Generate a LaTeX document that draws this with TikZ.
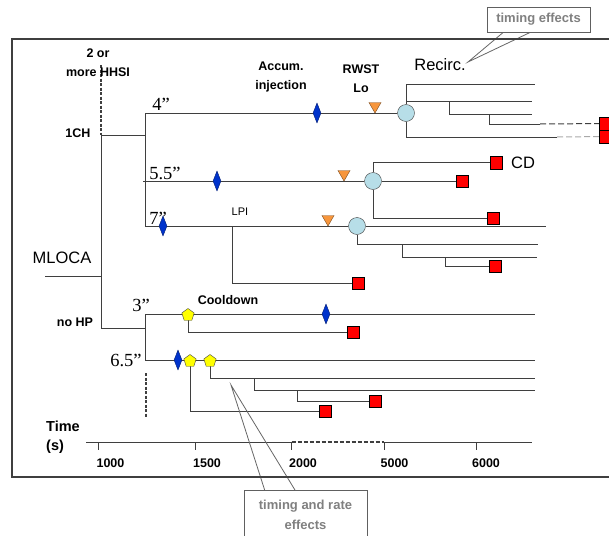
\documentclass[tikz,border=0pt]{standalone}
\usepackage{fontspec}
\setmainfont{Liberation Sans}
\newfontfamily\inchfont{Liberation Serif}
\usepackage{xcolor}
\usepackage{tikz}
\usetikzlibrary{
    arrows.meta, positioning, calc, shapes.geometric, backgrounds
}
\definecolor{linegray}{HTML}{3F3F3F}
\definecolor{notegray}{HTML}{808080}
\definecolor{accblue}{HTML}{0033CC}
\definecolor{rwstorange}{HTML}{F7963C}
\definecolor{recirccyan}{HTML}{B7DEE8}
\definecolor{cdred}{HTML}{FF0000}
\definecolor{coolyellow}{HTML}{FFFF00}

\begin{document}
\begin{tikzpicture}[
    x=1pt, y=-1pt,
    branch/.style={draw=linegray, line width=1pt},
    dashbranch/.style={draw=linegray, line width=1.3pt, dash pattern=on 3pt off 1.5pt},
    accum/.style={
        diamond, fill=accblue, draw=accblue!55!black,
        inner sep=0pt, minimum width=8pt, minimum height=20pt,
    },
    rwst/.style={
        regular polygon, regular polygon sides=3, shape border rotate=180,
        fill=rwstorange, draw=rwstorange!50!black,
        inner sep=0pt, minimum size=14pt,
    },
    recirc/.style={
        circle, fill=recirccyan, draw=linegray,
        inner sep=0pt, minimum size=17pt,
    },
    cool/.style={
        regular polygon, regular polygon sides=5, fill=coolyellow, draw=linegray,
        inner sep=0pt, minimum size=13pt,
    },
    endst/.style={
        rectangle, fill=cdred, draw=black,
        inner sep=0pt, minimum size=12.5pt,
    },
    lbl/.style={font=\fontsize{12.5}{19}\selectfont\bfseries, align=center, inner sep=0pt},
    big/.style={font=\fontsize{16.5}{18}\selectfont, inner sep=0pt},
    inch/.style={font=\fontsize{18.5}{20}\selectfont\inchfont, inner sep=0pt},
    note/.style={
        rectangle, draw=notegray!75!black, fill=white, text=notegray,
        font=\fontsize{13}{20}\selectfont\bfseries, align=center, line width=0.8pt,
    },
    pointer/.style={draw=notegray!80!black, line width=0.8pt},
]
\useasboundingbox (0,0) rectangle (609,535);
\clip (0,0) rectangle (609,535);

% ── Frame ───────────────────────────────────────────────────────────────────
\draw[branch, line width=1.2pt] (640,39) -- (12,39) -- (12,477) -- (640,477);

% ── Left tree ───────────────────────────────────────────────────────────────
\coordinate (mloca) at (45,276);
\coordinate (split) at (101,276);
\coordinate (hhsi)  at (101,65);
\coordinate (onech) at (101,135);
\coordinate (nohp)  at (101,328);
\coordinate (chj)   at (145,135);
\coordinate (hpj)   at (145,328);

\node[lbl] (twoor)  at (98,63)  {2 or\\more HHSI};
\node[lbl] (onechl) at (78,133) {1CH};
\node[lbl] (nohpl)  at (75,322) {no HP};
\node[big] (mlocal) at (62,258) {MLOCA};

% ── 1CH, 4" ─────────────────────────────────────────────────────────────────
\coordinate (s4) at (145,113);
\node[inch]   (i4)  at (161,104) {4”};
\node[accum]  (d4)  at (317,113) {};
\node[rwst]   (t4)  at (375,106) {};
\node[recirc] (c4)  at (406,113) {};
\coordinate (r4a)  at (535,84);
\coordinate (r4b)  at (406,101);
\coordinate (r4be) at (532,101);
\coordinate (r4c)  at (449,101);
\coordinate (r4ce) at (532,114);
\coordinate (r4d)  at (489,114);
\coordinate (r4de) at (540,124);
\coordinate (r4ee) at (557,137);
\node[endst, minimum size=13pt] (q4a) at (605.5,123.5) {};
\node[endst, minimum size=13pt] (q4b) at (605.5,136.5) {};

\node[lbl] (accl)  at (281,77) {Accum.\\injection};
\node[lbl] (rwstl) at (361,79) {RWST\\Lo};
\node[big] (recl)  at (440,65) {Recirc.};

% ── 1CH, 5.5" ───────────────────────────────────────────────────────────────
\coordinate (s55) at (143,181);
\node[inch]   (i55)  at (165,173) {5.5”};
\node[accum]  (d55)  at (217,181) {};
\node[rwst]   (t55)  at (344,174) {};
\node[recirc] (c55)  at (373,181) {};
\node[endst]  (q55)  at (462,181) {};
\node[endst]  (qcd)  at (496,162.5) {};
\node[big]    (cdl)  at (523,163) {CD};
\node[endst]  (q55b) at (493,218) {};

% ── 1CH, 7" ─────────────────────────────────────────────────────────────────
\coordinate (s7)  at (145,226);
\node[inch]   (i7)   at (158,218) {7”};
\node[accum]  (d7)   at (163,226) {};
\coordinate (lpi) at (232,226);
\node[font=\fontsize{11}{13}\selectfont, inner sep=0pt] (lpil) at (240,212) {LPI};
\node[rwst]   (t7)   at (328,219) {};
\node[recirc] (c7)   at (357,226) {};
\coordinate (e7)   at (546,226);
\node[endst]  (qlpi) at (358,283) {};
\coordinate (r7a)  at (538,244);
\coordinate (r7b)  at (402,244);
\coordinate (r7be) at (537,257);
\coordinate (r7c)  at (445,257);
\node[endst]  (q7c)  at (495,266) {};

% ── no HP, 3" ───────────────────────────────────────────────────────────────
\coordinate (s3) at (145,314);
\node[inch]  (i3)  at (141,305) {3”};
\node[cool]  (p3)  at (188,315) {};
\node[accum] (d3)  at (326,314) {};
\coordinate (e3) at (535,314);
\node[endst] (q3)  at (353,332) {};
\node[lbl]   (cooll) at (228,300) {Cooldown};

% ── no HP, 6.5" ─────────────────────────────────────────────────────────────
\coordinate (s65)   at (145,360);
\coordinate (dash1) at (146,373);
\coordinate (dash2) at (146,417);
\node[inch]  (i65)  at (126,360) {6.5”};
\node[accum] (d65)  at (178,360) {};
\node[cool]  (p65a) at (190,361) {};
\node[cool]  (p65b) at (210,361) {};
\coordinate (e65)  at (535,360);
\node[endst] (q65a) at (325,411) {};
\coordinate (r65a)  at (535,378);
\coordinate (r65b)  at (254,378);
\coordinate (r65be) at (535,390);
\coordinate (r65c)  at (297,390);
\node[endst] (q65c) at (375,401) {};

% ── Time axis ───────────────────────────────────────────────────────────────
\coordinate (ax0) at (86,442);
\coordinate (ax1) at (532,442);
\node[lbl, font=\fontsize{14.5}{19}\selectfont\bfseries, align=left, anchor=west] (timel) at (46,437) {Time\\(s)};
\foreach \x/\lx/\lab [count=\i] in {98/110.5/1000, 195.5/207/1500, 291.5/303/2000, 384/394.5/5000, 476/486/6000} {
    \coordinate (tk\i) at (\x,442);
    \node[lbl] (tl\i) at (\lx,463) {\lab};
    \draw[branch] (tk\i) -- ++(0,8);
}

% ── Notes ───────────────────────────────────────────────────────────────────
\node[note, minimum width=103pt, minimum height=25pt] (te) at (538.5,19.5) {timing effects};
\coordinate (tep) at (468,62);
\node[note, minimum width=123pt, minimum height=48pt, anchor=north] (tre) at (305.5,490) {timing and rate\\effects};
\coordinate (trp) at (231,385);

% ── Connectors ──────────────────────────────────────────────────────────────
\begin{scope}[on background layer]
    \draw[branch] (mloca) -- (split);
    \draw[branch] (onech) -- (nohp);
    \draw[dashbranch] (hhsi) -- (onech);
    \draw[branch] (onech) -- (chj);
    \draw[branch] (s4) -- (s7);
    \draw[branch] (nohp) -- (hpj);
    \draw[branch] (s3) -- (s65);
    \draw[dashbranch] (dash1) -- (dash2);

    % 4"
    \draw[branch] (s4) -- (c4);
    \draw[branch] (c4.north) |- (r4a);
    \draw[branch] (r4b) -- (r4be);
    \draw[branch] (r4c) |- (r4ce);
    \draw[branch] (r4d) |- (r4de);
    \draw[branch, dash pattern=on 6pt off 3pt] (r4de) -- (q4a);
    \draw[branch] (c4.south) |- (r4ee);
    \draw[branch, draw=linegray!45, dash pattern=on 6pt off 3pt] (r4ee) -- (q4b);

    % 5.5"
    \draw[branch] (s55) -- (c55) -- (q55);
    \draw[branch] (c55.north) |- (qcd.west);
    \draw[branch] (c55.south) |- (q55b.west);

    % 7"
    \draw[branch] (s7) -- (c7) -- (e7);
    \draw[branch] (lpi) |- (qlpi.west);
    \draw[branch] (c7.south) |- (r7a);
    \draw[branch] (r7b) |- (r7be);
    \draw[branch] (r7c) |- (q7c.west);

    % 3"
    \draw[branch] (s3) -- (e3);
    \draw[branch] (p3.center) |- (q3.west);

    % 6.5"
    \draw[branch] (s65) -- (e65);
    \draw[branch] (p65a.center) |- (q65a.west);
    \draw[branch] (p65b.center) |- (r65a);
    \draw[branch] (r65b) |- (r65be);
    \draw[branch] (r65c) |- (q65c.west);

    % axis
    \draw[branch] (ax0) -- (tk3);
    \draw[branch, line width=1.3pt, dash pattern=on 4pt off 2pt] (tk3) -- (tk4);
    \draw[branch] (tk4) -- (ax1);

    % note pointers
    \draw[pointer] ($(te.south west)!0.16!(te.south east)$) -- (tep)
        -- ($(te.south west)!0.42!(te.south east)$);
    \draw[pointer] ($(tre.north west)!0.17!(tre.north east)$) -- (trp)
        -- ($(tre.north west)!0.415!(tre.north east)$);
\end{scope}

\end{tikzpicture}
\end{document}
